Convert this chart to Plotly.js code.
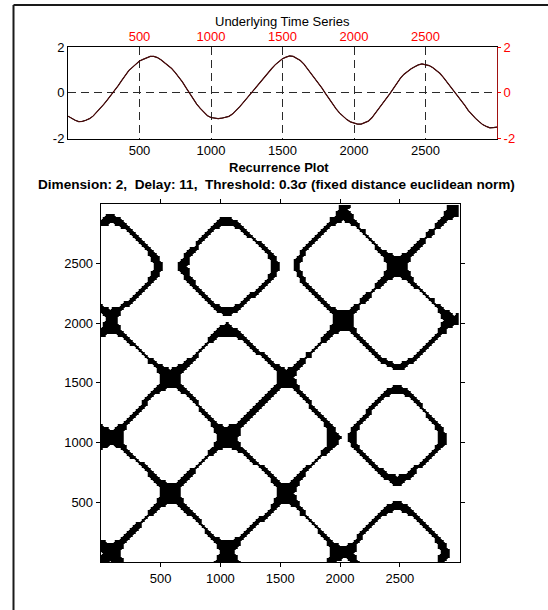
<!DOCTYPE html>
<html>
<head>
<meta charset="utf-8">
<script src="https://cdn.plot.ly/plotly-3.0.1.min.js"></script>
<style>html,body{margin:0;padding:0;background:#fff;}#chart{width:548px;height:610px;}</style>
</head>
<body>
<div id="chart"></div>
<script>
// Sample times of the underlying series (every 25 samples)
const sampleTimes = [0,25,50,75,100,125,150,175,200,225,250,275,300,325,350,375,400,425,450,475,
500,525,550,575,600,625,650,675,700,725,750,775,800,825,850,875,900,925,950,975,
1000,1025,1050,1075,1100,1125,1150,1175,1200,1225,1250,1275,1300,1325,1350,1375,1400,1425,1450,1475,
1500,1525,1550,1575,1600,1625,1650,1675,1700,1725,1750,1775,1800,1825,1850,1875,1900,1925,1950,1975,
2000,2025,2050,2075,2100,2125,2150,2175,2200,2225,2250,2275,2300,2325,2350,2375,2400,2425,2450,2475,
2500,2525,2550,2575,2600,2625,2650,2675,2700,2725,2750,2775,2800,2825,2850,2875,2900,2925,2950,2975,3000];
// Underlying time series values
const seriesValues = [-1.02,-1.12,-1.20,-1.26,-1.25,-1.20,-1.13,-1.02,-0.86,-0.68,-0.50,-0.31,-0.12,0.09,0.31,0.54,0.79,0.98,1.12,1.26,
1.40,1.47,1.52,1.60,1.60,1.55,1.45,1.33,1.21,1.07,0.89,0.70,0.48,0.23,-0.02,-0.26,-0.49,-0.68,-0.86,-1.00,
-1.08,-1.12,-1.13,-1.11,-1.08,-1.03,-0.93,-0.79,-0.61,-0.43,-0.24,-0.05,0.17,0.36,0.53,0.70,0.88,1.07,1.24,1.38,
1.50,1.57,1.62,1.60,1.52,1.42,1.26,1.06,0.87,0.65,0.44,0.22,-0.02,-0.25,-0.49,-0.70,-0.89,-1.05,-1.17,-1.27,
-1.33,-1.37,-1.37,-1.32,-1.24,-1.09,-0.89,-0.67,-0.46,-0.25,-0.04,0.19,0.43,0.65,0.82,0.95,1.06,1.15,1.23,1.27,
1.25,1.20,1.11,1.00,0.86,0.68,0.48,0.27,0.06,-0.17,-0.36,-0.55,-0.78,-0.97,-1.12,-1.26,-1.39,-1.47,-1.53,-1.52,-1.50];
const xTickVals = [500,1000,1500,2000,2500];
const xTickText = ['500','1000','1500','2000','2500'];
const yTickVals = [-2,0,2];
const yTickText = ['-2','0','2'];
const rpTickVals = [500,1000,1500,2000,2500];
const embedDimension = 2;
const embedDelay = 11;
const thresholdFactor = 0.3;

// Recurrence matrix computed from the series (2-D delay embedding, euclidean norm)
const n = seriesValues.length;
const step = sampleTimes[1] - sampleTimes[0];
const frac = embedDelay / step;
const mean = seriesValues.reduce((a,b)=>a+b,0)/n;
const sigma = Math.sqrt(seriesValues.reduce((a,b)=>a+(b-mean)*(b-mean),0)/(n-1));
const eps = thresholdFactor * sigma;
const emb = [];
const embTimes = [];
for (let i = 0; i < n-1; i++) {
  emb.push([seriesValues[i], seriesValues[i] + frac*(seriesValues[i+1]-seriesValues[i])]);
  embTimes.push(sampleTimes[i]);
}
const z = [];
for (let j = 0; j < emb.length; j++) {
  const row = [];
  for (let i = 0; i < emb.length; i++) {
    const d0 = emb[i][0]-emb[j][0], d1 = emb[i][1]-emb[j][1];
    row.push(Math.sqrt(d0*d0+d1*d1) < eps ? 1 : 0);
  }
  z.push(row);
}

const font = 'Liberation Sans, Arial, sans-serif';
const data = [
  {x: sampleTimes, y: seriesValues, type:'scatter', mode:'lines', line:{color:'#000000', width:1}, xaxis:'x', yaxis:'y', hoverinfo:'skip'},
  {x: sampleTimes, y: seriesValues, type:'scatter', mode:'lines', line:{color:'#4a0a0a', width:1.2}, xaxis:'x2', yaxis:'y2', hoverinfo:'skip'},
  {x: embTimes, y: embTimes, z: z, type:'heatmap', zsmooth:'best',
   colorscale:[[0,'#ffffff'],[0.34,'#ffffff'],[0.38,'#000000'],[1,'#000000']], zmin:0, zmax:1, showscale:false, xaxis:'x3', yaxis:'y3', hoverinfo:'skip'}
];

const topX = [68/548, 497/548];
const topY = [(610-138.5)/610, (610-47.3)/610];
const rpX = [100.7/548, 459.7/548];
const rpY = [(610-562)/610, (610-203.5)/610];

const layout = {
  width:548, height:610, margin:{l:0,r:0,t:0,b:0},
  paper_bgcolor:'#ffffff', plot_bgcolor:'#ffffff', showlegend:false,
  font:{family:font, size:13, color:'#000000'},
  xaxis:{domain:topX, anchor:'y', range:[0,3000], tickvals:xTickVals, ticktext:xTickText, ticks:'', showline:true, linecolor:'#000000', linewidth:1,
    showgrid:true, gridcolor:'#2a2a2a', gridwidth:1, griddash:'8px,5px', zeroline:false, tickfont:{size:13, color:'#000000'}},
  xaxis2:{domain:topX, anchor:'y2', overlaying:'x', side:'top', range:[0,3000], tickvals:xTickVals, ticktext:xTickText, ticks:'', showline:true, linecolor:'#000000', linewidth:1,
    showgrid:false, zeroline:false, tickfont:{size:13, color:'#ff0000'}},
  yaxis:{domain:topY, anchor:'x', range:[-2,2], tickvals:yTickVals, ticktext:yTickText, ticks:'', showline:true, linecolor:'#000000', linewidth:1,
    showgrid:true, gridcolor:'#2a2a2a', gridwidth:1, griddash:'8px,5px', zeroline:false, tickfont:{size:13, color:'#000000'}},
  yaxis2:{domain:topY, anchor:'x2', overlaying:'y', side:'right', range:[-2,2], tickvals:yTickVals, ticktext:yTickText, ticks:'outside', ticklen:3, tickcolor:'#ff0000',
    showline:true, linecolor:'#a01010', linewidth:1, showgrid:false, zeroline:false, tickfont:{size:13, color:'#ff0000'}},
  xaxis3:{domain:rpX, anchor:'y3', range:[0,3000], tickvals:rpTickVals, ticks:'outside', ticklen:4, tickcolor:'#000000', mirror:'ticks', showline:true, linecolor:'#000000', linewidth:1,
    showgrid:false, zeroline:false, tickfont:{size:13, color:'#000000'}},
  yaxis3:{domain:rpY, anchor:'x3', range:[0,3000], tickvals:rpTickVals, ticks:'outside', ticklen:4, tickcolor:'#000000', mirror:'ticks', showline:true, linecolor:'#000000', linewidth:1,
    showgrid:false, zeroline:false, tickfont:{size:13, color:'#000000'}},
  annotations:[
    {text:'Underlying Time Series', xref:'paper', yref:'paper', x:282.5/548, y:(610-21)/610, xanchor:'center', yanchor:'middle', showarrow:false, font:{family:font, size:13, color:'#000000'}},
    {text:'<b>Recurrence Plot</b>', xref:'paper', yref:'paper', x:279/548, y:(610-167)/610, xanchor:'center', yanchor:'middle', showarrow:false, font:{family:font, size:13, color:'#000000'}},
    {text:'<b>Dimension: 2,&nbsp; Delay: 11,&nbsp; Threshold: 0.3σ (fixed distance euclidean norm)</b>', xref:'paper', yref:'paper', x:276/548, y:(610-184.5)/610, xanchor:'center', yanchor:'middle', showarrow:false, font:{family:font, size:13.6, color:'#000000'}}
  ],
  shapes:[
    {type:'line', xref:'paper', yref:'paper', x0:13.5/548, x1:13.5/548, y0:0, y1:(610-5)/610, line:{color:'#1a1a1a', width:2}},
    {type:'line', xref:'paper', yref:'paper', x0:13.5/548, x1:1, y0:(610-5)/610, y1:(610-5)/610, line:{color:'#1a1a1a', width:2}}
  ]
};

Plotly.newPlot('chart', data, layout, {staticPlot:true, displayModeBar:false});
</script>
</body>
</html>
